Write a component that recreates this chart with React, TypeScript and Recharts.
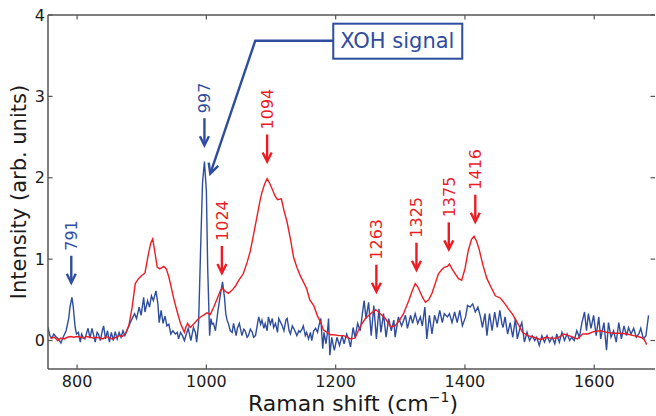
import React from "react";
import { LineChart, Line, XAxis, YAxis, ReferenceDot } from "recharts";

const BLUE = "#2f4d9f";
const RED = "#ec1c24";
const AXIS = "#555555";
const INK = "#1a1a1a";
const FONT = "'DejaVu Sans', sans-serif";

const xTicks = [800, 1000, 1200, 1400, 1600];
const yTicks = [0, 1, 2, 3, 4];

// [Raman shift, intensity]
const blueSpectrum: [number, number][] = [
  [755, 0.16], [758, 0.06], [761, 0.03], [764, 0.08], [767, 0.05], [771, 0.02],
  [775, -0.03], [779, 0.05], [783, 0.12], [787, 0.27], [789, 0.41], [792, 0.53],
  [794, 0.42], [797, 0.16], [799, 0.08], [802, 0.1], [805, -0.02], [807, 0.08],
  [810, 0.03], [812, 0.02], [815, 0.1], [817, 0.15], [820, 0.03], [823, 0.15],
  [826, 0.05], [828, -0.02], [831, 0.1], [833, 0.08], [836, 0.0], [839, 0.12],
  [841, 0.18], [844, 0.02], [847, 0.12], [850, -0.02], [853, 0.1], [856, 0.0],
  [859, 0.11], [862, 0.02], [865, 0.1], [868, 0.04], [871, 0.12], [874, 0.06],
  [879, 0.16], [884, 0.25], [889, 0.33], [892, 0.27], [896, 0.41], [899, 0.31],
  [903, 0.53], [905, 0.35], [909, 0.49], [912, 0.41], [915, 0.55], [918, 0.49],
  [922, 0.61], [925, 0.45], [927, 0.22], [930, 0.37], [933, 0.21], [936, 0.3],
  [939, 0.18], [942, 0.2], [945, 0.08], [948, 0.12], [952, 0.08], [955, 0.1],
  [957, 0.02], [960, 0.1], [963, 0.06], [966, 0.0], [969, 0.08], [972, 0.15],
  [976, 0.0], [980, 0.16], [983, 0.1], [985, -0.02], [988, 0.22], [991, 1.1],
  [994, 1.93], [997, 2.2], [1000, 1.84], [1002, 0.9], [1005, 0.06], [1007, 0.27],
  [1009, 0.2], [1011, 0.21], [1014, 0.12], [1018, 0.37], [1022, 0.58], [1025, 0.72],
  [1028, 0.53], [1030, 0.33], [1032, 0.25], [1034, 0.21], [1037, 0.12], [1040, 0.1],
  [1042, 0.21], [1046, 0.06], [1048, 0.15], [1051, 0.21], [1055, 0.06], [1058, 0.14],
  [1060, 0.12], [1063, 0.04], [1065, 0.06], [1068, 0.14], [1071, 0.1], [1073, 0.04],
  [1076, 0.06], [1079, 0.2], [1081, 0.29], [1084, 0.2], [1086, 0.25], [1089, 0.15],
  [1091, 0.21], [1094, 0.12], [1096, 0.29], [1099, 0.2], [1102, 0.27], [1104, 0.16],
  [1107, 0.21], [1110, 0.1], [1112, 0.27], [1115, 0.22], [1117, 0.19], [1120, 0.12],
  [1123, 0.25], [1125, 0.27], [1128, 0.12], [1130, 0.08], [1133, 0.18], [1135, 0.15],
  [1138, 0.1], [1140, 0.06], [1143, 0.12], [1145, 0.1], [1148, 0.14], [1150, 0.18],
  [1153, 0.06], [1155, 0.1], [1158, 0.02], [1161, 0.1], [1163, 0.0], [1166, 0.12],
  [1169, 0.15], [1172, 0.1], [1174, 0.18], [1177, 0.27], [1180, -0.1], [1182, 0.1],
  [1185, -0.04], [1187, 0.08], [1189, 0.27], [1191, -0.18], [1194, 0.04], [1196, -0.05],
  [1198, -0.12], [1202, 0.04], [1206, -0.06], [1210, 0.06], [1213, -0.04], [1217, 0.08],
  [1220, 0.02], [1223, -0.08], [1227, 0.16], [1230, 0.04], [1234, 0.21], [1238, 0.12],
  [1242, 0.37], [1244, 0.49], [1247, 0.27], [1251, 0.47], [1255, 0.06], [1259, 0.43],
  [1263, 0.02], [1267, 0.39], [1270, 0.1], [1274, 0.33], [1278, 0.04], [1282, 0.27],
  [1286, 0.12], [1290, 0.25], [1292, 0.04], [1297, 0.29], [1302, 0.18], [1308, 0.31],
  [1311, 0.15], [1316, 0.31], [1319, 0.21], [1323, 0.33], [1327, 0.21], [1331, 0.29],
  [1334, 0.18], [1338, 0.41], [1341, 0.02], [1345, 0.31], [1349, 0.08], [1353, 0.31],
  [1357, 0.21], [1361, 0.37], [1365, 0.22], [1368, 0.33], [1373, 0.29], [1376, 0.33],
  [1380, 0.22], [1384, 0.35], [1388, 0.22], [1392, 0.37], [1396, 0.18], [1401, 0.29],
  [1404, 0.43], [1408, 0.41], [1412, 0.45], [1416, 0.35], [1420, 0.41], [1424, 0.29],
  [1427, 0.16], [1431, 0.33], [1434, 0.06], [1438, 0.33], [1442, 0.12], [1446, 0.35],
  [1450, 0.16], [1454, 0.37], [1457, 0.21], [1459, 0.16], [1462, 0.29], [1466, 0.08],
  [1470, 0.22], [1474, 0.04], [1478, 0.27], [1481, 0.02], [1486, 0.18], [1488, 0.22],
  [1492, -0.02], [1496, 0.1], [1500, 0.0], [1504, 0.06], [1508, 0.0], [1511, 0.04],
  [1515, -0.06], [1519, 0.06], [1523, -0.02], [1527, 0.06], [1531, -0.02], [1535, 0.04],
  [1539, -0.04], [1542, 0.08], [1546, -0.02], [1550, 0.1], [1554, 0.0], [1558, 0.08],
  [1562, 0.0], [1565, 0.04], [1569, 0.0], [1573, 0.12], [1577, 0.04], [1581, 0.22],
  [1585, 0.35], [1588, 0.12], [1591, 0.33], [1595, 0.15], [1599, 0.31], [1603, 0.06],
  [1607, 0.29], [1610, 0.02], [1615, 0.22], [1619, -0.12], [1622, 0.22], [1626, 0.04],
  [1630, 0.12], [1634, -0.02], [1638, 0.22], [1642, 0.02], [1646, 0.18], [1650, 0.06],
  [1653, 0.16], [1657, 0.08], [1661, 0.15], [1665, 0.04], [1669, 0.08], [1672, 0.15],
  [1676, 0.02], [1680, 0.06], [1684, 0.31],
];

const redSpectrum: [number, number][] = [
  [758, 0.03], [765, 0.04], [770, 0.0], [775, 0.03], [780, 0.02], [785, 0.04],
  [790, 0.05], [795, 0.04], [800, 0.05], [805, 0.04], [810, 0.03], [815, 0.05],
  [820, 0.04], [825, 0.03], [830, 0.04], [835, 0.03], [840, 0.02], [845, 0.05],
  [850, 0.03], [855, 0.02], [860, 0.04], [865, 0.06], [870, 0.05], [875, 0.09],
  [880, 0.18], [885, 0.4], [890, 0.7], [895, 0.76], [900, 0.8], [905, 0.83],
  [910, 1.05], [914, 1.2], [917, 1.25], [920, 1.1], [924, 0.9], [928, 0.88],
  [934, 0.91], [938, 0.88], [942, 0.78], [946, 0.64], [950, 0.5], [955, 0.35],
  [960, 0.21], [966, 0.1], [968, 0.16], [971, 0.21], [975, 0.16], [980, 0.2],
  [988, 0.27], [995, 0.31], [1001, 0.34], [1006, 0.32], [1012, 0.42], [1017, 0.52],
  [1022, 0.62], [1025, 0.64], [1030, 0.6], [1034, 0.58], [1040, 0.62], [1045, 0.67],
  [1050, 0.74], [1057, 0.82], [1063, 0.96], [1068, 1.1], [1073, 1.3], [1078, 1.51],
  [1083, 1.72], [1086, 1.82], [1090, 1.92], [1094, 1.99], [1098, 1.93], [1102, 1.86],
  [1106, 1.78], [1110, 1.73], [1116, 1.74], [1120, 1.6], [1125, 1.45], [1130, 1.25],
  [1135, 1.02], [1140, 0.9], [1145, 0.8], [1150, 0.72], [1155, 0.64], [1160, 0.5],
  [1166, 0.43], [1172, 0.3], [1177, 0.22], [1181, 0.13], [1187, 0.1], [1192, 0.07],
  [1197, 0.07], [1205, 0.06], [1212, 0.06], [1218, 0.04], [1223, 0.02], [1230, 0.03],
  [1235, 0.12], [1240, 0.2], [1246, 0.27], [1254, 0.33], [1262, 0.38], [1269, 0.33],
  [1277, 0.27], [1285, 0.17], [1292, 0.18], [1298, 0.24], [1305, 0.33], [1313, 0.49],
  [1318, 0.6], [1323, 0.7], [1327, 0.66], [1331, 0.59], [1335, 0.52], [1339, 0.47],
  [1344, 0.5], [1349, 0.58], [1354, 0.7], [1359, 0.82], [1364, 0.87], [1368, 0.9],
  [1373, 0.91], [1376, 0.94], [1380, 0.88], [1385, 0.82], [1390, 0.76], [1395, 0.74],
  [1400, 0.88], [1405, 1.1], [1410, 1.24], [1414, 1.28], [1418, 1.22], [1422, 1.12],
  [1428, 0.92], [1434, 0.76], [1440, 0.66], [1447, 0.55], [1455, 0.52], [1462, 0.45],
  [1468, 0.38], [1473, 0.33], [1481, 0.22], [1489, 0.1], [1497, 0.06], [1507, 0.04],
  [1517, 0.01], [1525, 0.04], [1532, 0.03], [1543, 0.03], [1553, 0.08], [1564, 0.05],
  [1574, 0.02], [1582, 0.08], [1590, 0.08], [1599, 0.11], [1610, 0.12], [1620, 0.1],
  [1630, 0.09], [1641, 0.09], [1651, 0.08], [1661, 0.06], [1672, 0.04], [1677, 0.02],
  [1681, -0.05],
];

// peak labels: band position and where the arrow tip sits
const bluePeaks = [
  { shift: 791, tip: 0.71 },
  { shift: 997, tip: 2.4 },
];
const redPeaks = [
  { shift: 1024, tip: 0.83 },
  { shift: 1094, tip: 2.2 },
  { shift: 1263, tip: 0.6 },
  { shift: 1325, tip: 0.87 },
  { shift: 1375, tip: 1.12 },
  { shift: 1416, tip: 1.46 },
];
const xohTip = { shift: 1006, tip: 2.05 };

const blueData = blueSpectrum.map(([x, y]) => ({ x, y }));
const redData = redSpectrum.map(([x, y]) => ({ x, y }));

const X_DOMAIN: [number, number] = [755, 1694];
const Y_DOMAIN: [number, number] = [-0.35, 4];

function BottomTick(p: any) {
  return (
    <g>
      <line x1={p.x} x2={p.x} y1={p.y} y2={p.y - 4.5} stroke={AXIS} strokeWidth={1.2} />
      <text x={p.x} y={p.y + 18} textAnchor="middle" fontSize={16} fill={INK} fontFamily={FONT}>
        {p.payload.value}
      </text>
    </g>
  );
}

function TopTick(p: any) {
  return <line x1={p.x} x2={p.x} y1={p.y} y2={p.y + 4.5} stroke={AXIS} strokeWidth={1.2} />;
}

function LeftTick(p: any) {
  return (
    <g>
      <line x1={p.x} x2={p.x + 4.5} y1={p.y} y2={p.y} stroke={AXIS} strokeWidth={1.2} />
      <text x={p.x - 3} y={p.y + 5.5} textAnchor="end" fontSize={16} fill={INK} fontFamily={FONT}>
        {p.payload.value}
      </text>
    </g>
  );
}

function RightTick(p: any) {
  return <line x1={p.x - 4.5} x2={p.x} y1={p.y} y2={p.y} stroke={AXIS} strokeWidth={1.2} />;
}

function peakArrow(label: string, color: string) {
  return (p: any) => {
    const { cx, cy } = p;
    const len = 27;
    return (
      <g>
        <line x1={cx} y1={cy - len} x2={cx} y2={cy - 2} stroke={color} strokeWidth={2.4} />
        <path
          d={`M${cx - 4.5},${cy - 9} L${cx},${cy} L${cx + 4.5},${cy - 9}`}
          fill="none"
          stroke={color}
          strokeWidth={2.4}
        />
        <text
          transform={`translate(${cx + 5.8},${cy - len - 5}) rotate(-90)`}
          fill={color}
          fontSize={16}
          fontFamily={FONT}
        >
          {label}
        </text>
      </g>
    );
  };
}

function xohCallout(p: any) {
  const { cx, cy } = p;
  const ex = cx + 45;
  const ey = cy - 133;
  const dx = cx - ex;
  const dy = cy - ey;
  const d = Math.hypot(dx, dy);
  const ux = dx / d;
  const uy = dy / d;
  const hl = 10;
  const hw = 5;
  const h1x = cx - ux * hl - uy * hw;
  const h1y = cy - uy * hl + ux * hw;
  const h2x = cx - ux * hl + uy * hw;
  const h2y = cy - uy * hl - ux * hw;
  return (
    <g>
      <polyline
        points={`${cx + 123},${ey} ${ex},${ey} ${cx - ux * 2},${cy - uy * 2}`}
        fill="none"
        stroke={BLUE}
        strokeWidth={2.4}
      />
      <path d={`M${h1x},${h1y} L${cx},${cy} L${h2x},${h2y}`} fill="none" stroke={BLUE} strokeWidth={2.4} />
      <rect x={cx + 123} y={cy - 150} width={129} height={35} fill="#fff" stroke={BLUE} strokeWidth={2} />
      <text x={cx + 130} y={cy - 125.5} fill={BLUE} fontSize={21} fontFamily={FONT}>
        XOH signal
      </text>
    </g>
  );
}

export default function App() {
  return (
    <div style={{ position: "absolute", left: 0, top: 0, background: "#fff" }}>
      <LineChart width={656} height={416} margin={{ top: 14, right: 0, bottom: 0, left: 0 }}>
        <XAxis
          dataKey="x"
          type="number"
          domain={X_DOMAIN}
          allowDataOverflow
          ticks={xTicks}
          height={47}
          axisLine={{ stroke: AXIS, strokeWidth: 1.5 }}
          tickLine={false}
          tickSize={0}
          tickMargin={0}
          tick={BottomTick}
          label={() => (
            <text x={353} y={411} textAnchor="middle" fontSize={22} fill={INK} fontFamily={FONT}>
              Raman shift (cm
              <tspan fontSize={14} dy={-9}>−1</tspan>
              <tspan dy={9}>)</tspan>
            </text>
          )}
        />
        <XAxis
          xAxisId="top"
          orientation="top"
          dataKey="x"
          type="number"
          domain={X_DOMAIN}
          allowDataOverflow
          ticks={xTicks}
          height={1}
          axisLine={{ stroke: AXIS, strokeWidth: 1.5 }}
          tickLine={false}
          tickSize={0}
          tickMargin={0}
          tick={TopTick}
        />
        <YAxis
          type="number"
          domain={Y_DOMAIN}
          allowDataOverflow
          ticks={yTicks}
          width={48}
          axisLine={{ stroke: AXIS, strokeWidth: 1.5 }}
          tickLine={false}
          tickSize={0}
          tickMargin={0}
          tick={LeftTick}
          label={() => (
            <text
              transform="translate(25.5,192) rotate(-90)"
              textAnchor="middle"
              fontSize={21}
              fill={INK}
              fontFamily={FONT}
            >
              Intensity (arb. units)
            </text>
          )}
        />
        <YAxis
          yAxisId="right"
          orientation="right"
          type="number"
          domain={Y_DOMAIN}
          allowDataOverflow
          ticks={yTicks}
          width={1}
          axisLine={false}
          tickLine={false}
          tickSize={0}
          tickMargin={0}
          tick={RightTick}
        />
        <Line
          data={blueData}
          dataKey="y"
          type="linear"
          stroke={BLUE}
          strokeWidth={1.4}
          dot={false}
          isAnimationActive={false}
        />
        <Line
          data={redData}
          dataKey="y"
          type="linear"
          stroke={RED}
          strokeWidth={1.4}
          dot={false}
          isAnimationActive={false}
        />
        {bluePeaks.map((pk) => (
          <ReferenceDot
            key={`b${pk.shift}`}
            x={pk.shift}
            y={pk.tip}
            ifOverflow="visible"
            shape={peakArrow(String(pk.shift), BLUE)}
          />
        ))}
        {redPeaks.map((pk) => (
          <ReferenceDot
            key={`r${pk.shift}`}
            x={pk.shift}
            y={pk.tip}
            ifOverflow="visible"
            shape={peakArrow(String(pk.shift), RED)}
          />
        ))}
        <ReferenceDot x={xohTip.shift} y={xohTip.tip} ifOverflow="visible" shape={xohCallout} />
      </LineChart>
    </div>
  );
}
